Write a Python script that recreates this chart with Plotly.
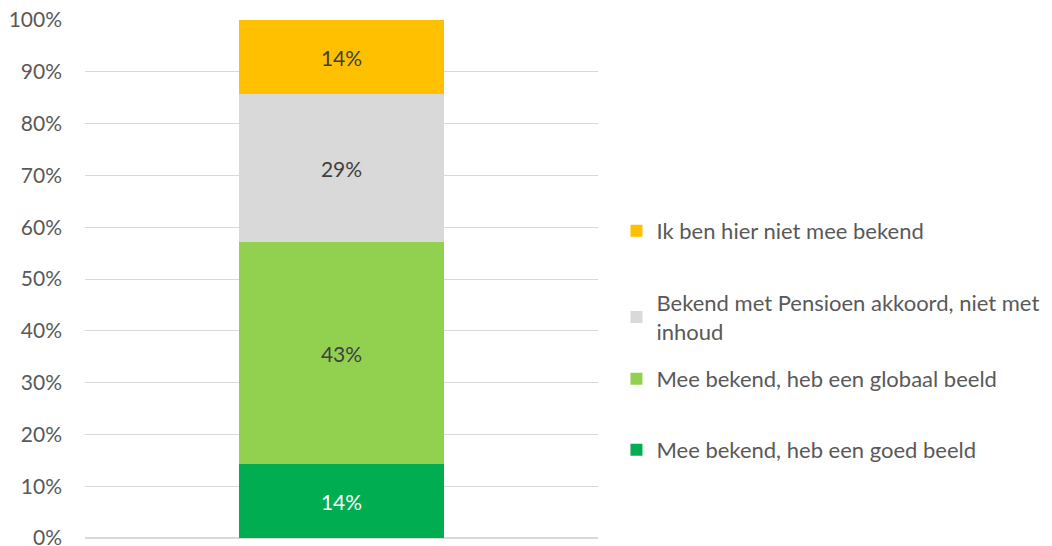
import plotly.graph_objects as go

categories = ["Totaal"]
series_names = [
    "Mee bekend, heb een goed beeld",
    "Mee bekend, heb een globaal beeld",
    "Bekend met Pensioen akkoord, niet met<br>inhoud",
    "Ik ben hier niet mee bekend",
]
series_values = [1/7, 3/7, 2/7, 1/7]
series_labels = ["14%", "43%", "29%", "14%"]
colors = ["#00AD50", "#92D050", "#D9D9D9", "#FFC000"]
label_colors = ["#FFFFFF", "#404040", "#404040", "#404040"]
y_ticks = [i / 10 for i in range(11)]

legend_ids = ["legend4", "legend3", "legend2", "legend"]
legend_y = [0.170, 0.307, 0.4257, 0.5927]

fig = go.Figure()
for i, (name, v, lab, c, lc) in enumerate(zip(series_names, series_values, series_labels, colors, label_colors)):
    fig.add_trace(go.Bar(
        x=categories, y=[v], name=name, marker=dict(color=c, line=dict(width=0)),
        text=[lab], textposition="inside", insidetextanchor="middle",
        textfont=dict(color=lc, size=21, family="Lato"),
        width=0.4, legend=legend_ids[i],
    ))

layout_legends = {}
for lid, ly in zip(legend_ids, legend_y):
    layout_legends[lid] = dict(
        x=1.036, y=ly, xanchor="left", yanchor="middle",
        font=dict(size=22, color="#595959", family="Lato"),
        bgcolor="rgba(0,0,0,0)", itemwidth=30,
    )

fig.update_layout(
    barmode="stack",
    width=1044, height=538,
    margin=dict(l=77, r=454, t=12, b=8, autoexpand=False),
    plot_bgcolor="white", paper_bgcolor="white",
    font=dict(family="Lato", size=21, color="#595959"),
    showlegend=True,
    uniformtext=dict(mode=False),
    **layout_legends,
)
fig.update_xaxes(range=[-0.5, 0.5], showticklabels=False, showgrid=False, zeroline=False,
                 showline=False, automargin=False)
fig.update_yaxes(range=[0, 1], tickvals=y_ticks, tickformat=".0%", showgrid=True,
                 gridcolor="#D9D9D9", gridwidth=1, zeroline=True, zerolinecolor="#D9D9D9",
                 showline=False, ticks="", ticklabelstandoff=22, automargin=False,
                 ticklabeloverflow="allow",
                 tickfont=dict(size=21, color="#595959", family="Lato"))

fig.write_html("out.html")
